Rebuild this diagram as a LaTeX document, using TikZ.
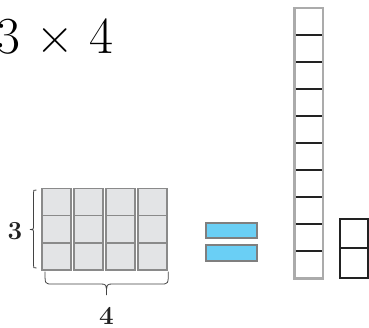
\documentclass[tikz,border=0pt]{standalone}
\usepackage{fontspec}
\definecolor{cellfill}{HTML}{E3E4E6}
\definecolor{cellline}{HTML}{8A8A8A}
\definecolor{eqfill}{HTML}{6ACFF5}
\definecolor{eqline}{HTML}{7F7F7F}
\definecolor{tallline}{HTML}{ABABAB}
\definecolor{ink}{HTML}{222222}
\tikzset{
  cell/.style={draw=cellline, fill=cellfill, line width=1.6pt},
  eqbar/.style={draw=eqline, fill=eqfill, line width=2pt},
  tallbox/.style={draw=tallline, line width=2.6pt},
  tick/.style={draw=ink, line width=2pt},
  smallbox/.style={draw=ink, line width=2pt},
  bracestyle/.style={draw=ink!85, line width=0.8pt},
  lbl/.style={font=\fontsize{26}{30}\selectfont\bfseries, text=ink, inner sep=0pt},
}
\begin{document}
\begin{tikzpicture}[x=1pt,y=-1pt]
\useasboundingbox (0,0) rectangle (369,327);
% title
\node[anchor=base west, inner sep=0pt, font=\fontsize{52}{60}\selectfont] (title) at (-4,53.3) {3\hspace{16pt}×\hspace{16pt}4};
% grid
\foreach \cx in {41.7,73.7,105.7,137.7}{
  \foreach \ry in {188.3,215.5,242.7}{
    \draw[cell] (\cx,\ry) rectangle ++(29,27.2);
  }
}
% left brace
\draw[bracestyle] (36.5,190) .. controls (33.5,190) .. (33.5,193) -- (33.5,226)
  .. controls (33.5,229.3) .. (30,229.5) .. controls (33.5,229.7) .. (33.5,233)
  -- (33.5,265) .. controls (33.5,268) .. (36.5,268);
\node[lbl] (three) at (15,231) {3};
% bottom brace
\draw[bracestyle] (45,271.5) .. controls (45,284) .. (52,284) -- (100,284)
  .. controls (106.5,284) .. (106.5,295) .. controls (106.5,284) .. (113,284)
  -- (161,284) .. controls (168.3,284) .. (168.3,271.5);
\node[lbl] (four) at (106.5,316) {4};
% equals
\draw[eqbar] (206,223.3) rectangle (256.7,238);
\draw[eqbar] (206,245.3) rectangle (256.7,260.7);
% tall column
\draw[tallbox] (294.5,7.8) rectangle (323,278.2);
\foreach \k in {1,...,9}{
  \draw[tick] (295.8,7.8+27.04*\k) -- (321.7,7.8+27.04*\k);
}
% small column
\draw[smallbox] (339.5,219) rectangle (367.5,277.5);
\draw[smallbox] (339.5,248) -- (367.5,248);
\end{tikzpicture}
\end{document}
